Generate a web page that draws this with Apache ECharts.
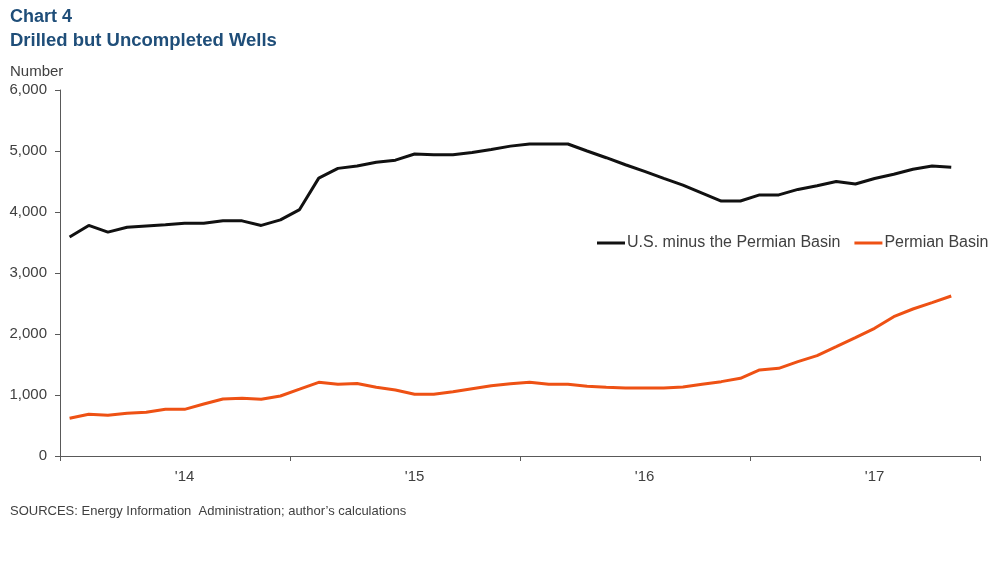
<!DOCTYPE html>
<html>
<head>
<meta charset="utf-8">
<script src="https://cdn.jsdelivr.net/npm/echarts@6/dist/echarts.min.js"></script>
<style>html,body{margin:0;padding:0;background:#fff}#c{width:997px;height:565px}</style>
</head>
<body>
<div id="c"></div>
<script>
// Monthly, Jan 2014 – Dec 2017 (Dec 2017 blank)
var years = ['2014', '2015', '2016', '2017'];
var yearLabels = ["'14", "'15", "'16", "'17"];
var usMinusPermian = [
  3590, 3780, 3670, 3750, 3770, 3790, 3815, 3815, 3855, 3855, 3780, 3870,
  4040, 4555, 4715, 4755, 4815, 4850, 4950, 4940, 4940, 4975, 5025, 5080,
  5115, 5115, 5115, 5000, 4890, 4775, 4665, 4550, 4440, 4310, 4180, 4180,
  4280, 4280, 4370, 4430, 4500, 4460, 4550, 4620, 4700, 4755, 4735, null
];
var permian = [
  620, 685, 668, 700, 716, 765, 765, 852, 934, 945, 929, 984,
  1095, 1208, 1175, 1190, 1126, 1082, 1011, 1011, 1055, 1104, 1153, 1186,
  1208, 1175, 1175, 1142, 1126, 1115, 1115, 1115, 1131, 1175, 1219, 1273,
  1410, 1437, 1546, 1645, 1792, 1940, 2093, 2284, 2410, 2514, 2623, null
];
var yTicks = [0, 1000, 2000, 3000, 4000, 5000, 6000];

var months = [];
years.forEach(function (y) { for (var m = 1; m <= 12; m++) months.push(y + '-' + (m < 10 ? '0' + m : m)); });

var textColor = '#404040';
var axisColor = '#595959';
var font = 'Liberation Sans, Arial, sans-serif';

var chart = echarts.init(document.getElementById('c'));
chart.setOption({
  animation: false,
  title: [
    { text: 'Chart 4', left: 10, top: 8, padding: 0, textStyle: { fontFamily: font, fontSize: 18, fontWeight: 'bold', color: '#1F4E79' } },
    { text: 'Drilled but Uncompleted Wells', left: 10, top: 31, padding: 0, textStyle: { fontFamily: font, fontSize: 18.5, fontWeight: 'bold', color: '#1F4E79' } },
    { text: 'Number', left: 10, top: 64, padding: 0, textStyle: { fontFamily: font, fontSize: 15, fontWeight: 'normal', color: textColor } },
    { text: 'SOURCES: Energy Information\u00a0 Administration; author\u2019s calculations', left: 10, top: 505, padding: 0, textStyle: { fontFamily: font, fontSize: 13, fontWeight: 'normal', color: textColor } }
  ],
  legend: {
    left: 597, top: 235, padding: 0, itemWidth: 28, itemHeight: 3, itemGap: 14, icon: 'rect',
    textStyle: { fontFamily: font, fontSize: 16, color: textColor, padding: [0, 0, 0, -3] },
    data: ['U.S. minus the Permian Basin', 'Permian Basin']
  },
  grid: { left: 60, right: 17, top: 90, bottom: 109, containLabel: false },
  xAxis: {
    type: 'category', data: months, boundaryGap: true,
    axisLine: { lineStyle: { color: axisColor, width: 1 } },
    axisTick: { show: true, length: 5, interval: 11, lineStyle: { color: axisColor } },
    axisLabel: {
      interval: function (i) { return i % 12 === 6; },
      formatter: function (v, i) { return yearLabels[Math.floor(i / 12)]; },
      fontFamily: font, fontSize: 15, color: textColor, margin: 13
    },
    splitLine: { show: false }
  },
  yAxis: {
    type: 'value', min: yTicks[0], max: yTicks[yTicks.length - 1], interval: 1000,
    axisLine: { show: true, lineStyle: { color: axisColor, width: 1 } },
    axisTick: { show: true, inside: false, length: 5, lineStyle: { color: axisColor } },
    axisLabel: {
      fontFamily: font, fontSize: 15, color: textColor, margin: 13,
      formatter: function (v) { return v.toLocaleString('en-US'); }
    },
    splitLine: { show: false }
  },
  series: [
    { name: 'U.S. minus the Permian Basin', type: 'line', data: usMinusPermian, showSymbol: false, symbol: 'none',
      lineStyle: { color: '#111111', width: 3 }, itemStyle: { color: '#111111' } },
    { name: 'Permian Basin', type: 'line', data: permian, showSymbol: false, symbol: 'none',
      lineStyle: { color: '#EE5114', width: 3 }, itemStyle: { color: '#EE5114' } }
  ]
});
</script>
</body>
</html>
